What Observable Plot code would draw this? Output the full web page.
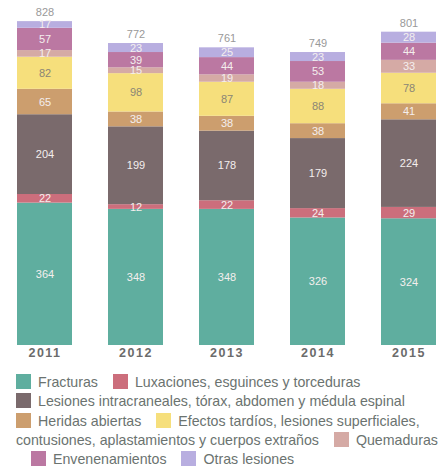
<!DOCTYPE html>
<html>
<head>
<meta charset="utf-8">
<script src="https://cdn.jsdelivr.net/npm/d3@7"></script>
<script src="https://cdn.jsdelivr.net/npm/@observablehq/plot@0.6"></script>
<style>
  html, body { margin: 0; padding: 0; background: #fff; }
  #chart svg { display: block; }
  .legend { width: 424px; padding-left: 16px; margin-top: 8px; font-family: "Liberation Sans", Arial, sans-serif; font-size: 14.2px; line-height: 19.3px; color: #6b7370; }
  .legend .sw { display: inline-block; width: 15px; height: 15px; vertical-align: -2px; margin-right: 7px; }
  .legend .nw { white-space: nowrap; }
</style>
</head>
<body>
<div id="chart"></div>
<script>
const years = ["2011", "2012", "2013", "2014", "2015"];
const categories = [
  "Fracturas",
  "Luxaciones, esguinces y torceduras",
  "Lesiones intracraneales, tórax, abdomen y médula espinal",
  "Heridas abiertas",
  "Efectos tardíos, lesiones superficiales, contusiones, aplastamientos y cuerpos extraños",
  "Quemaduras",
  "Envenenamientos",
  "Otras lesiones"
];
const colors = ["#5fae9f", "#cc6e7c", "#7a6a6c", "#cc9e6e", "#f6df7c", "#d5aaa5", "#bb78a2", "#b8aee0"];
const fracturas     = [364, 348, 348, 326, 324];
const luxaciones    = [22, 12, 22, 24, 29];
const intracraneal  = [204, 199, 178, 179, 224];
const heridas       = [65, 38, 38, 38, 41];
const efectos       = [82, 98, 87, 88, 78];
const quemaduras    = [17, 15, 19, 18, 33];
const envenenam     = [57, 39, 44, 53, 44];
const otras         = [17, 23, 25, 23, 28];
const totals        = [828, 772, 761, 749, 801];
const series = [fracturas, luxaciones, intracraneal, heridas, efectos, quemaduras, envenenam, otras];

const data = [];
years.forEach((yr, i) => {
  categories.forEach((c, k) => data.push({year: yr, cat: c, value: series[k][i]}));
});
const totalData = years.map((yr, i) => ({year: yr, total: totals[i]}));

const fontNum = "Liberation Sans, Arial, sans-serif";
const stackOpts = {x: "year", y: "value", z: "cat", order: categories, text: "value", fontSize: 11};
const plot = Plot.plot({
  width: 439,
  height: 365,
  marginLeft: 15,
  marginRight: 0,
  marginTop: 0,
  marginBottom: 20,
  style: {fontFamily: fontNum, background: "#fff"},
  x: {domain: years, paddingInner: 0.391, paddingOuter: 0, label: null},
  y: {domain: [0, 882], axis: null},
  color: {domain: categories, range: colors},
  marks: [
    Plot.barY(data, {x: "year", y: "value", fill: "cat", order: categories}),
    Plot.text(data, Plot.filter(d => d.cat !== categories[4], Plot.stackY({...stackOpts, fill: "#f4eeee"}))),
    Plot.text(data, Plot.filter(d => d.cat === categories[4], Plot.stackY({...stackOpts, fill: "#8a8676"}))),
    Plot.text(totalData, {x: "year", y: "total", text: "total", dy: -9, fill: "#999", fontSize: 11}),
    Plot.axisX({tickSize: 0, tickPadding: 3, fontSize: 12.5, fontWeight: "bold", fill: "#6b6b6b", label: null})
  ]
});
plot.querySelectorAll('[aria-label="x-axis tick label"] text').forEach(t => t.setAttribute("letter-spacing", "1.5"));
document.getElementById("chart").appendChild(plot);

const legend = document.createElement("div");
legend.className = "legend";
categories.forEach((c, k) => {
  const words = c.split(" ");
  const nw = document.createElement("span");
  nw.className = "nw";
  const sw = document.createElement("span");
  sw.className = "sw";
  sw.style.background = colors[k];
  nw.appendChild(sw);
  const w0 = document.createElement("span");
  w0.textContent = words[0];
  nw.appendChild(w0);
  legend.appendChild(nw);
  words.slice(1).forEach(w => {
    legend.appendChild(document.createTextNode(" "));
    const ws = document.createElement("span");
    ws.textContent = w;
    legend.appendChild(ws);
  });
  if (k < categories.length - 1) {
    const gap = document.createElement("span");
    gap.style.display = "inline-block";
    gap.style.width = "11px";
    legend.appendChild(gap);
    legend.appendChild(document.createTextNode(" "));
  }
});
document.getElementById("chart").appendChild(legend);
</script>
</body>
</html>
